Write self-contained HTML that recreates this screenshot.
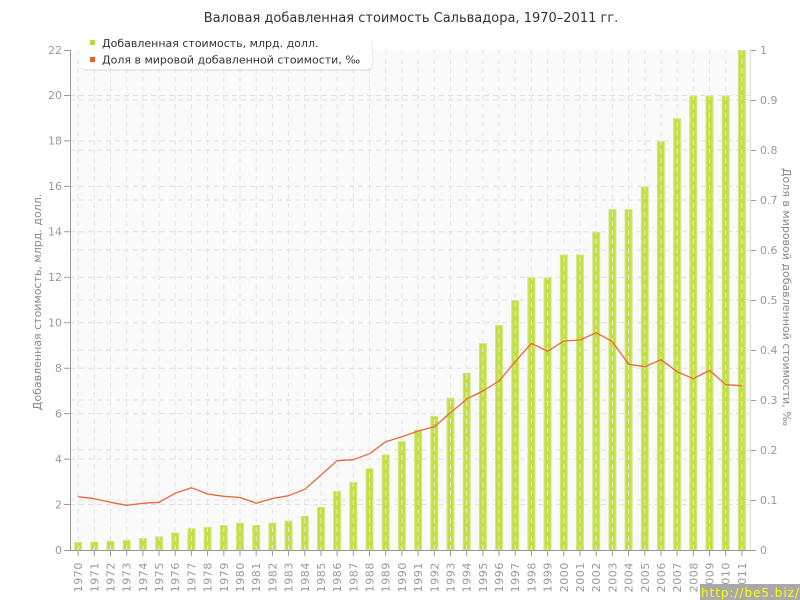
<!DOCTYPE html>
<html><head><meta charset="utf-8"><style>
html,body{margin:0;padding:0;background:#fff;width:800px;height:600px;overflow:hidden}
svg{display:block}
text{font-family:"DejaVu Sans","Liberation Sans",sans-serif}
</style></head><body>
<svg width="800" height="600" viewBox="0 0 800 600" xmlns="http://www.w3.org/2000/svg">
<rect width="800" height="600" fill="#fff"/>
<text x="411" y="22" text-anchor="middle" font-size="13" fill="#333">Валовая добавленная стоимость Сальвадора, 1970–2011 гг.</text>
<rect x="70" y="50" width="680" height="500" fill="#fafafa"/>
<g stroke="#e2e2e2" stroke-width="1" stroke-dasharray="5,4" fill="none">
<path d="M70 504.5H750M70 459.1H750M70 413.6H750M70 368.2H750M70 322.7H750M70 277.3H750M70 231.8H750M70 186.4H750M70 140.9H750M70 95.5H750"/>
<path d="M70 500H750M70 450H750M70 400H750M70 350H750M70 300H750M70 250H750M70 200H750M70 150H750M70 100H750"/>
</g>
<g fill="#c4df42" stroke="#d3e884" stroke-width="1">
<rect x="74.6" y="542.5" width="7" height="7.5"/>
<rect x="90.8" y="542.1" width="7" height="7.9"/>
<rect x="107" y="541.4" width="7" height="8.6"/>
<rect x="123.2" y="540.3" width="7" height="9.7"/>
<rect x="139.4" y="538.5" width="7" height="11.5"/>
<rect x="155.6" y="536.9" width="7" height="13.1"/>
<rect x="171.7" y="533" width="7" height="17"/>
<rect x="187.9" y="528.5" width="7" height="21.5"/>
<rect x="204.1" y="527.3" width="7" height="22.7"/>
<rect x="220.3" y="525.5" width="7" height="24.5"/>
<rect x="236.5" y="523.2" width="7" height="26.8"/>
<rect x="252.7" y="525.5" width="7" height="24.5"/>
<rect x="268.9" y="523.2" width="7" height="26.8"/>
<rect x="285.1" y="521" width="7" height="29"/>
<rect x="301.3" y="516.4" width="7" height="33.6"/>
<rect x="317.5" y="507.3" width="7" height="42.7"/>
<rect x="333.6" y="491.4" width="7" height="58.6"/>
<rect x="349.8" y="482.3" width="7" height="67.7"/>
<rect x="366" y="468.7" width="7" height="81.3"/>
<rect x="382.2" y="455" width="7" height="95"/>
<rect x="398.4" y="441.4" width="7" height="108.6"/>
<rect x="414.6" y="430" width="7" height="120"/>
<rect x="430.8" y="416.4" width="7" height="133.6"/>
<rect x="447" y="398.2" width="7" height="151.8"/>
<rect x="463.2" y="373.2" width="7" height="176.8"/>
<rect x="479.4" y="343.7" width="7" height="206.3"/>
<rect x="495.5" y="325.5" width="7" height="224.5"/>
<rect x="511.7" y="300.5" width="7" height="249.5"/>
<rect x="527.9" y="277.8" width="7" height="272.2"/>
<rect x="544.1" y="277.8" width="7" height="272.2"/>
<rect x="560.3" y="255" width="7" height="295"/>
<rect x="576.5" y="255" width="7" height="295"/>
<rect x="592.7" y="232.3" width="7" height="317.7"/>
<rect x="608.9" y="209.6" width="7" height="340.4"/>
<rect x="625.1" y="209.6" width="7" height="340.4"/>
<rect x="641.3" y="186.9" width="7" height="363.1"/>
<rect x="657.4" y="141.4" width="7" height="408.6"/>
<rect x="673.6" y="118.7" width="7" height="431.3"/>
<rect x="689.8" y="96" width="7" height="454"/>
<rect x="706" y="96" width="7" height="454"/>
<rect x="722.2" y="96" width="7" height="454"/>
<rect x="738.4" y="50.5" width="7" height="499.5"/>
</g>
<g stroke="#e6e6e6" stroke-width="1" stroke-dasharray="5,4" fill="none">
<path d="M78.1 50V550M94.3 50V550M110.5 50V550M126.7 50V550M142.9 50V550M159 50V550M175.2 50V550M191.4 50V550M207.6 50V550M223.8 50V550M240 50V550M256.2 50V550M272.4 50V550M288.6 50V550M304.8 50V550M321 50V550M337.1 50V550M353.3 50V550M369.5 50V550M385.7 50V550M401.9 50V550M418.1 50V550M434.3 50V550M450.5 50V550M466.7 50V550M482.9 50V550M499 50V550M515.2 50V550M531.4 50V550M547.6 50V550M563.8 50V550M580 50V550M596.2 50V550M612.4 50V550M628.6 50V550M644.8 50V550M661 50V550M677.1 50V550M693.3 50V550M709.5 50V550M725.7 50V550M741.9 50V550"/>
</g>
<polyline fill="none" stroke="#e8683a" stroke-width="1.3" stroke-linejoin="round" points="78.1,496.7 94.3,498.7 110.5,502.3 126.7,505.3 142.9,503.3 159,502.3 175.2,493.3 191.4,487.7 207.6,494 223.8,496.3 240,497.5 256.2,503.3 272.4,498.5 288.6,495.7 304.8,489.3 321,475 337.1,460.7 353.3,459.7 369.5,453.7 385.7,441.7 401.9,436.7 418.1,431 434.3,426.7 450.5,412.7 466.7,399 482.9,391 499,381 515.2,361.7 531.4,343.3 547.6,351.3 563.8,341 580,340 596.2,332.7 612.4,341.7 628.6,364.3 644.8,366.7 661,359.7 677.1,371.7 693.3,378.7 709.5,370.3 725.7,384.7 741.9,385.7"/>
<g stroke="#999" stroke-width="1" fill="none">
<path d="M70.5 50V550.5M70 550.5H752"/>
<path d="M64 550.5H70M64 504.5H70M64 459.1H70M64 413.6H70M64 368.2H70M64 322.7H70M64 277.3H70M64 231.8H70M64 186.4H70M64 140.9H70M64 95.5H70M64 50.5H70"/>
<path d="M750 550.5H756M750 500.5H756M750 450.5H756M750 400.5H756M750 350.5H756M750 300.5H756M750 250.5H756M750 200.5H756M750 150.5H756M750 100.5H756M750 50.5H756"/>
<path d="M78.1 550V556M94.3 550V556M110.5 550V556M126.7 550V556M142.9 550V556M159 550V556M175.2 550V556M191.4 550V556M207.6 550V556M223.8 550V556M240 550V556M256.2 550V556M272.4 550V556M288.6 550V556M304.8 550V556M321 550V556M337.1 550V556M353.3 550V556M369.5 550V556M385.7 550V556M401.9 550V556M418.1 550V556M434.3 550V556M450.5 550V556M466.7 550V556M482.9 550V556M499 550V556M515.2 550V556M531.4 550V556M547.6 550V556M563.8 550V556M580 550V556M596.2 550V556M612.4 550V556M628.6 550V556M644.8 550V556M661 550V556M677.1 550V556M693.3 550V556M709.5 550V556M725.7 550V556M741.9 550V556"/>
</g>
<path d="M750.5 50V550" stroke="#dcdcdc" stroke-width="1"/>
<g font-size="11" fill="#999" text-anchor="end">
<text x="62" y="554">0</text>
<text x="62" y="508.5">2</text>
<text x="62" y="463">4</text>
<text x="62" y="417.5">6</text>
<text x="62" y="372">8</text>
<text x="62" y="326.5">10</text>
<text x="62" y="281">12</text>
<text x="62" y="235.5">14</text>
<text x="62" y="190">16</text>
<text x="62" y="144.5">18</text>
<text x="62" y="99">20</text>
<text x="62" y="54">22</text>
</g>
<g font-size="11" fill="#999" text-anchor="start">
<text x="760" y="554">0</text>
<text x="760" y="504">0.1</text>
<text x="760" y="454">0.2</text>
<text x="760" y="404">0.3</text>
<text x="760" y="354">0.4</text>
<text x="760" y="304">0.5</text>
<text x="760" y="254">0.6</text>
<text x="760" y="204">0.7</text>
<text x="760" y="154">0.8</text>
<text x="760" y="104">0.9</text>
<text x="760" y="54">1</text>
</g>
<g font-size="11" fill="#999" text-anchor="end" letter-spacing="0.6">
<text transform="translate(78.1,562) rotate(-90)" dy="0.36em">1970</text>
<text transform="translate(94.3,562) rotate(-90)" dy="0.36em">1971</text>
<text transform="translate(110.5,562) rotate(-90)" dy="0.36em">1972</text>
<text transform="translate(126.7,562) rotate(-90)" dy="0.36em">1973</text>
<text transform="translate(142.9,562) rotate(-90)" dy="0.36em">1974</text>
<text transform="translate(159,562) rotate(-90)" dy="0.36em">1975</text>
<text transform="translate(175.2,562) rotate(-90)" dy="0.36em">1976</text>
<text transform="translate(191.4,562) rotate(-90)" dy="0.36em">1977</text>
<text transform="translate(207.6,562) rotate(-90)" dy="0.36em">1978</text>
<text transform="translate(223.8,562) rotate(-90)" dy="0.36em">1979</text>
<text transform="translate(240,562) rotate(-90)" dy="0.36em">1980</text>
<text transform="translate(256.2,562) rotate(-90)" dy="0.36em">1981</text>
<text transform="translate(272.4,562) rotate(-90)" dy="0.36em">1982</text>
<text transform="translate(288.6,562) rotate(-90)" dy="0.36em">1983</text>
<text transform="translate(304.8,562) rotate(-90)" dy="0.36em">1984</text>
<text transform="translate(321,562) rotate(-90)" dy="0.36em">1985</text>
<text transform="translate(337.1,562) rotate(-90)" dy="0.36em">1986</text>
<text transform="translate(353.3,562) rotate(-90)" dy="0.36em">1987</text>
<text transform="translate(369.5,562) rotate(-90)" dy="0.36em">1988</text>
<text transform="translate(385.7,562) rotate(-90)" dy="0.36em">1989</text>
<text transform="translate(401.9,562) rotate(-90)" dy="0.36em">1990</text>
<text transform="translate(418.1,562) rotate(-90)" dy="0.36em">1991</text>
<text transform="translate(434.3,562) rotate(-90)" dy="0.36em">1992</text>
<text transform="translate(450.5,562) rotate(-90)" dy="0.36em">1993</text>
<text transform="translate(466.7,562) rotate(-90)" dy="0.36em">1994</text>
<text transform="translate(482.9,562) rotate(-90)" dy="0.36em">1995</text>
<text transform="translate(499,562) rotate(-90)" dy="0.36em">1996</text>
<text transform="translate(515.2,562) rotate(-90)" dy="0.36em">1997</text>
<text transform="translate(531.4,562) rotate(-90)" dy="0.36em">1998</text>
<text transform="translate(547.6,562) rotate(-90)" dy="0.36em">1999</text>
<text transform="translate(563.8,562) rotate(-90)" dy="0.36em">2000</text>
<text transform="translate(580,562) rotate(-90)" dy="0.36em">2001</text>
<text transform="translate(596.2,562) rotate(-90)" dy="0.36em">2002</text>
<text transform="translate(612.4,562) rotate(-90)" dy="0.36em">2003</text>
<text transform="translate(628.6,562) rotate(-90)" dy="0.36em">2004</text>
<text transform="translate(644.8,562) rotate(-90)" dy="0.36em">2005</text>
<text transform="translate(661,562) rotate(-90)" dy="0.36em">2006</text>
<text transform="translate(677.1,562) rotate(-90)" dy="0.36em">2007</text>
<text transform="translate(693.3,562) rotate(-90)" dy="0.36em">2008</text>
<text transform="translate(709.5,562) rotate(-90)" dy="0.36em">2009</text>
<text transform="translate(725.7,562) rotate(-90)" dy="0.36em">2010</text>
<text transform="translate(741.9,562) rotate(-90)" dy="0.36em">2011</text>
</g>
<text transform="translate(37,302) rotate(-90)" dy="0.36em" text-anchor="middle" font-size="11" fill="#888">Добавленная стоимость, млрд. долл.</text>
<text transform="translate(787,297) rotate(90)" dy="0.36em" text-anchor="middle" font-size="11" fill="#888">Доля в мировой добавленной стоимости, ‰</text>
<rect x="81" y="38" width="292" height="33" rx="5" ry="5" fill="#000" opacity="0.06"/>
<rect x="80" y="36" width="292" height="33" rx="5" ry="5" fill="#fff"/>
<rect x="90" y="40" width="5" height="5" fill="#b9d832"/>
<text x="102" y="47" font-size="11" fill="#333">Добавленная стоимость, млрд. долл.</text>
<rect x="90" y="57" width="5" height="5" fill="#e8642c"/>
<text x="102" y="63.5" font-size="11" fill="#333">Доля в мировой добавленной стоимости, ‰</text>
<rect x="700" y="584" width="100" height="16" fill="#a9a9a9"/>
<text x="701" y="597" text-anchor="start" font-size="12" textLength="98" lengthAdjust="spacing" font-family="DejaVu Sans Mono, Liberation Mono, monospace" fill="#ffff00">http://be5.biz/</text>
</svg>
</body></html>
